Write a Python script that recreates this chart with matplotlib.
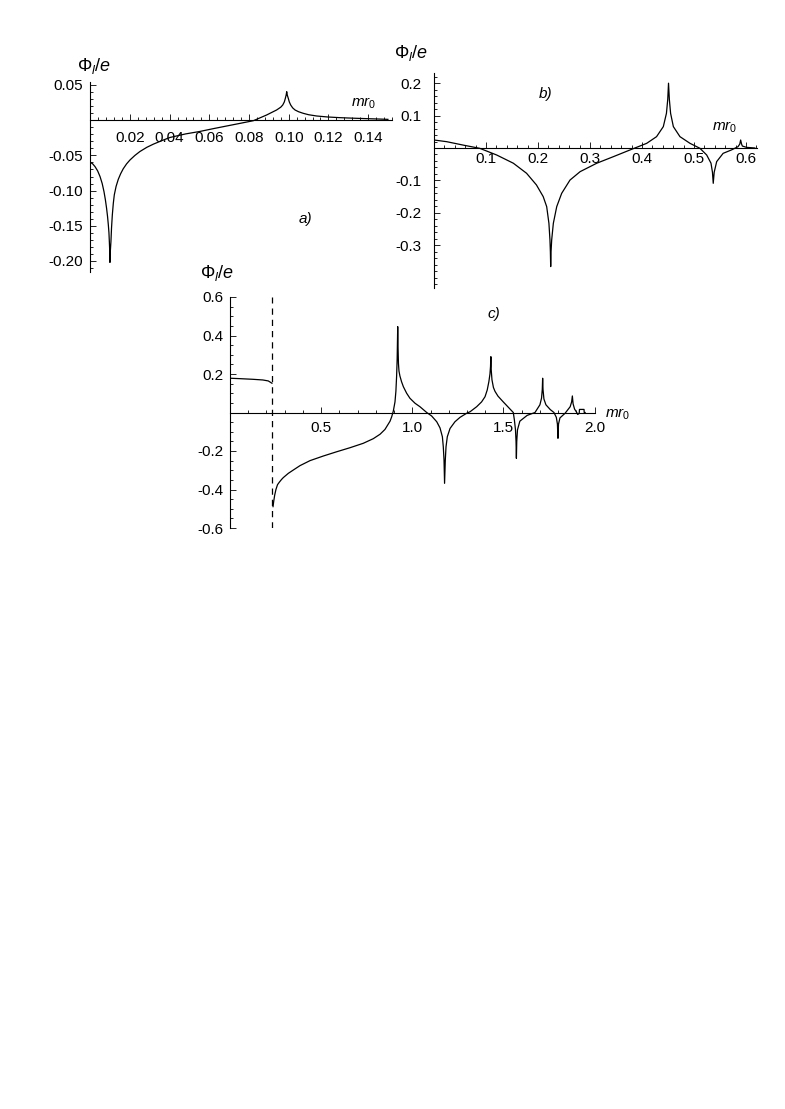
import matplotlib
matplotlib.use("Agg")
import matplotlib.pyplot as plt
from matplotlib.ticker import FixedLocator, MultipleLocator

plt.rcParams["font.family"] = ["Liberation Sans", "DejaVu Sans"]
plt.rcParams["mathtext.fontset"] = "custom"
plt.rcParams["mathtext.rm"] = "Liberation Sans"
plt.rcParams["mathtext.it"] = "Liberation Sans:italic"

# panel a) values
a_x = [0.000, 0.0012, 0.0024, 0.0037, 0.0049, 0.0060, 0.0069, 0.0076, 0.0082,
       0.0087, 0.0091, 0.0094, 0.0096, 0.0098, 0.0099, 0.0101, 0.0104, 0.0107,
       0.0111, 0.0116, 0.0121, 0.0130, 0.0141, 0.0153, 0.0166, 0.0183, 0.0200,
       0.0225, 0.0250, 0.0285, 0.0318, 0.0365, 0.0402, 0.0480, 0.0552, 0.0620,
       0.0688, 0.0760, 0.0822, 0.0888, 0.0939, 0.0960, 0.0970, 0.0978, 0.0983,
       0.0987, 0.0990, 0.0993, 0.0998, 0.1003, 0.1010, 0.1020, 0.1032, 0.1050,
       0.1073, 0.1100, 0.1140, 0.1195, 0.1258, 0.1330, 0.1393, 0.1450, 0.1500]
a_y = [-0.0598, -0.0620, -0.0660, -0.0720, -0.0800, -0.0900, -0.1015, -0.1130,
       -0.1250, -0.1370, -0.1490, -0.1600, -0.1725, -0.1860, -0.2020, -0.1860,
       -0.1725, -0.1530, -0.1346, -0.1180, -0.1060, -0.0940, -0.0840, -0.0760,
       -0.0690, -0.0620, -0.0565, -0.0500, -0.0445, -0.0385, -0.0340, -0.0285,
       -0.0245, -0.0195, -0.0160, -0.0120, -0.0082, -0.0042, -0.0007, 0.0073,
       0.0145, 0.0185, 0.0216, 0.0260, 0.0310, 0.0355, 0.0405, 0.0355, 0.0310,
       0.0260, 0.0216, 0.0175, 0.0145, 0.0120, 0.0098, 0.0078, 0.0060, 0.0046,
       0.0036, 0.0028, 0.0022, 0.0017, 0.0012]

# panel b)
b_x = [0.0, 0.0244, 0.056, 0.088, 0.1205, 0.1526, 0.178, 0.197, 0.210, 0.2167,
       0.221, 0.223, 0.2238, 0.2244, 0.2251, 0.2263, 0.2295, 0.236, 0.2455,
       0.2615, 0.281, 0.313, 0.345, 0.377, 0.409, 0.428, 0.441, 0.447, 0.4495,
       0.451, 0.4526, 0.455, 0.4603, 0.473, 0.4923, 0.5115, 0.5244, 0.5327,
       0.5355, 0.537, 0.5388, 0.5436, 0.556, 0.572, 0.5846, 0.5880, 0.5897,
       0.5915, 0.593, 0.601, 0.617]
b_y = [0.0247, 0.0195, 0.009, -0.001, -0.0216, -0.047, -0.078, -0.114, -0.150,
       -0.181, -0.2325, -0.284, -0.320, -0.366, -0.320, -0.284, -0.2325,
       -0.181, -0.140, -0.099, -0.073, -0.047, -0.0267, -0.006, 0.0144, 0.035,
       0.066, 0.107, 0.150, 0.200, 0.150, 0.107, 0.066, 0.035, 0.0144, -0.001,
       -0.0216, -0.047, -0.075, -0.109, -0.075, -0.042, -0.0165, -0.006, 0.004,
       0.012, 0.0247, 0.012, 0.006, 0.002, 0.0]

# panel c), branch left of the dashed line
c1_x = [0.0, 0.05, 0.125, 0.18, 0.21, 0.230]
c1_y = [0.178, 0.176, 0.1725, 0.169, 0.164, 0.152]

# panel c), branch right of the dashed line
c2_x = [0.236, 0.240, 0.245, 0.252, 0.2606, 0.2706, 0.2826, 0.2926, 0.320,
        0.347, 0.384, 0.439, 0.512, 0.585, 0.658, 0.731, 0.786, 0.823, 0.850,
        0.878, 0.887, 0.896, 0.905, 0.910, 0.914, 0.917, 0.920, 0.922, 0.924,
        0.927, 0.932, 0.941, 0.951, 0.969, 0.987, 1.015, 1.042, 1.079, 1.106,
        1.134, 1.152, 1.165, 1.170, 1.174, 1.177, 1.181, 1.185, 1.192, 1.207,
        1.234, 1.262, 1.298, 1.317, 1.353, 1.380, 1.399, 1.411, 1.420, 1.426,
        1.429, 1.431, 1.433, 1.437, 1.445, 1.4536, 1.470, 1.499, 1.536, 1.554,
        1.560, 1.566, 1.569, 1.571, 1.573, 1.577, 1.590, 1.630, 1.673, 1.700,
        1.709, 1.713, 1.715, 1.717, 1.722, 1.733, 1.757, 1.777, 1.790, 1.796,
        1.799, 1.802, 1.810, 1.838, 1.866, 1.874, 1.878, 1.882, 1.890, 1.902,
        1.907, 1.914, 1.916, 1.917, 1.942, 1.943, 1.948]
c2_y = [-0.489, -0.460, -0.430, -0.400, -0.375, -0.362, -0.348, -0.338,
        -0.316, -0.299, -0.276, -0.250, -0.226, -0.204, -0.183, -0.160, -0.136,
        -0.113, -0.088, -0.045, -0.022, 0.008, 0.055, 0.110, 0.190, 0.280,
        0.446, 0.330, 0.255, 0.215, 0.190, 0.160, 0.134, 0.100, 0.074, 0.048,
        0.030, 0.0, -0.018, -0.048, -0.080, -0.126, -0.178, -0.247, -0.368,
        -0.247, -0.178, -0.126, -0.083, -0.048, -0.025, -0.004, 0.004, 0.030,
        0.055, 0.082, 0.117, 0.160, 0.200, 0.238, 0.290, 0.220, 0.170, 0.130,
        0.110, 0.085, 0.055, 0.018, 0.0, -0.039, -0.090, -0.150, -0.238,
        -0.150, -0.090, -0.045, -0.015, 0.0, 0.040, 0.075, 0.120, 0.178, 0.120,
        0.070, 0.040, 0.015, 0.0, -0.025, -0.060, -0.134, -0.060, -0.028,
        -0.004, 0.030, 0.055, 0.086, 0.045, 0.018, 0.0, -0.010, -0.006, 0.0,
        0.016, 0.016, 0.0, 0.0]

c_dash_x = 0.232

W, H = 785, 1109


def make_axes(fig, x0_px, y0_px, xscale, yscale, xlim, ylim, xpad, ypad):
    # place axes so data (0,0) lands on the given pixel
    left = x0_px + xlim[0] * xscale
    right = x0_px + xlim[1] * xscale
    top = y0_px - ylim[1] * yscale
    bottom = y0_px - ylim[0] * yscale
    ax = fig.add_axes([left / W, 1 - bottom / H, (right - left) / W, (bottom - top) / H])
    ax.set_xlim(*xlim)
    ax.set_ylim(*ylim)
    ax.patch.set_visible(False)
    ax.spines["top"].set_visible(False)
    ax.spines["right"].set_visible(False)
    ax.spines["left"].set_position(("data", 0))
    ax.spines["bottom"].set_position(("data", 0))
    for s in ("left", "bottom"):
        ax.spines[s].set_linewidth(0.8)
    ax.tick_params(which="both", direction="in", width=0.6, labelsize=11)
    ax.tick_params(which="major", length=4.5)
    ax.tick_params(which="minor", length=2.5)
    ax.tick_params(axis="x", which="major", pad=xpad)
    ax.tick_params(axis="y", which="major", pad=ypad)
    return ax


fig = plt.figure(figsize=(W / 100, H / 100), dpi=100)
lab = r"$\Phi_{\mathit{l}}/\mathit{e}$"
mr = r"$\mathit{mr}_{\mathit{0}}$"
line = dict(color="black", lw=0.9)

# a)
ax = make_axes(fig, 90.3, 120.2, 1984, 704, (0, 0.152), (-0.2156, 0.0543), 7.6, 5)
ax.plot(a_x, a_y, **line)
ax.xaxis.set_major_locator(FixedLocator([0.02, 0.04, 0.06, 0.08, 0.10, 0.12, 0.14]))
ax.xaxis.set_minor_locator(MultipleLocator(0.004))
ax.set_xticklabels(["0.02", "0.04", "0.06", "0.08", "0.10", "0.12", "0.14"])
ax.yaxis.set_major_locator(FixedLocator([0.05, -0.05, -0.10, -0.15, -0.20]))
ax.yaxis.set_minor_locator(MultipleLocator(0.01))
ax.set_yticklabels(["0.05", "-0.05", "-0.10", "-0.15", "-0.20"])
fig.text(94 / W, 1 - 66 / H, lab, fontsize=13, ha="center", va="center")
fig.text(364 / W, 1 - 103 / H, mr, fontsize=11, ha="center", va="center")
fig.text(305 / W, 1 - 219 / H, "a)", fontsize=11, style="italic", ha="center", va="center")

# b)
ax = make_axes(fig, 434, 148, 520, 324, (0, 0.621), (-0.432, 0.231), 3, 9)
ax.plot(b_x, b_y, **line)
ax.xaxis.set_major_locator(FixedLocator([0.1, 0.2, 0.3, 0.4, 0.5, 0.6]))
ax.xaxis.set_minor_locator(MultipleLocator(0.02))
ax.set_xticklabels(["0.1", "0.2", "0.3", "0.4", "0.5", "0.6"])
ax.yaxis.set_major_locator(FixedLocator([0.2, 0.1, -0.1, -0.2, -0.3]))
ax.yaxis.set_minor_locator(MultipleLocator(0.02))
ax.set_yticklabels(["0.2", "0.1", "-0.1", "-0.2", "-0.3"])
fig.text(411 / W, 1 - 53 / H, lab, fontsize=13, ha="center", va="center")
fig.text(725 / W, 1 - 127 / H, mr, fontsize=11, ha="center", va="center")
fig.text(546 / W, 1 - 94 / H, "b)", fontsize=11, style="italic", ha="center", va="center")

# c)
ax = make_axes(fig, 230, 412.5, 182.3, 192.5, (0, 2.0), (-0.6, 0.6), 5.8, 4.5)
ax.plot(c1_x, c1_y, **line)
ax.plot(c2_x, c2_y, **line)
ax.axvline(c_dash_x, color="black", lw=0.9, ls=(0, (5, 4)))
ax.xaxis.set_major_locator(FixedLocator([0.5, 1.0, 1.5, 2.0]))
ax.xaxis.set_minor_locator(MultipleLocator(0.1))
ax.set_xticklabels(["0.5", "1.0", "1.5", "2.0"])
ax.yaxis.set_major_locator(FixedLocator([0.6, 0.4, 0.2, -0.2, -0.4, -0.6]))
ax.yaxis.set_minor_locator(MultipleLocator(0.05))
ax.set_yticklabels(["0.6", "0.4", "0.2", "-0.2", "-0.4", "-0.6"])
fig.text(217 / W, 1 - 273 / H, lab, fontsize=13, ha="center", va="center")
fig.text(618 / W, 1 - 414 / H, mr, fontsize=11, ha="center", va="center")
fig.text(494 / W, 1 - 314 / H, "c)", fontsize=11, style="italic", ha="center", va="center")

fig.savefig("out.png", dpi=100)
